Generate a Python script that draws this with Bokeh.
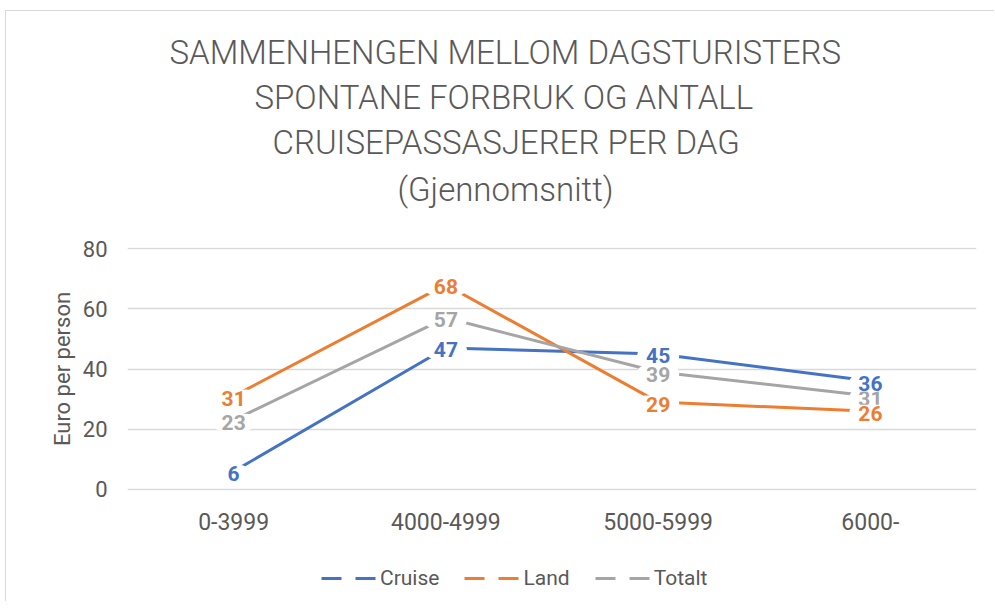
from bokeh.plotting import figure
from bokeh.layouts import column
from bokeh.models import (ColumnDataSource, Range1d, FactorRange, Title, Legend,
                          LegendItem, CategoricalAxis, FixedTicker)
from bokeh.core.properties import value
from bokeh.embed import file_html
from bokeh.resources import INLINE

# ---------------- data ----------------
categories = ["0-3999", "4000-4999", "5000-5999", "6000-"]
cruise = [6, 47, 45, 36]
land = [31, 68, 29, 26]
totalt = [23, 57, 39, 31]
series_names = ["Cruise", "Land", "Totalt"]
y_ticks = [0, 20, 40, 60, 80]
title_lines = ["SAMMENHENGEN MELLOM DAGSTURISTERS",
               "SPONTANE FORBRUK OG ANTALL",
               "CRUISEPASSASJERER PER DAG",
               "(Gjennomsnitt)"]
y_label = "Euro per person"

# ---------------- style ----------------
colors = {"Cruise": "#4472C4", "Land": "#ED7D31", "Totalt": "#A5A5A5"}
TEXT = "#595959"
GRID = "#D9D9D9"
FONT = "Roboto"
TITLE_FONT = "Roboto Light, Roboto"

W, H = 988, 540
p = figure(width=W, height=H,
           x_range=FactorRange(*categories),
           y_range=Range1d(-0.35, 80.35),
           output_backend="svg", toolbar_location=None, title=None,
           min_border_left=121, min_border_right=18,
           min_border_top=236, min_border_bottom=61)
p.outline_line_color = None
p.background_fill_color = "white"
p.border_fill_color = "white"

# grid
p.xgrid.grid_line_color = None
p.ygrid.grid_line_color = GRID
p.ygrid.grid_line_width = 1.3

# axes
for ax in (p.xaxis[0], p.yaxis[0]):
    ax.axis_line_color = None
    ax.major_tick_line_color = None
    ax.minor_tick_line_color = None
    ax.major_tick_in = 0
    ax.major_tick_out = 0
    ax.major_label_text_color = TEXT
    ax.major_label_text_font = FONT
p.yaxis.ticker = y_ticks
p.yaxis.major_label_text_font_size = "22px"
p.yaxis.major_label_standoff = 20
p.yaxis.axis_label = y_label
p.yaxis.axis_label_text_font = FONT
p.yaxis.axis_label_text_font_size = "22px"
p.yaxis.axis_label_text_font_style = "normal"
p.yaxis.axis_label_text_color = TEXT
p.yaxis.axis_label_standoff = 5
p.xaxis.major_label_text_font_size = "23px"
p.xaxis.major_label_standoff = 22

data = {"Cruise": cruise, "Land": land, "Totalt": totalt}
sources = {n: ColumnDataSource(dict(x=categories, y=data[n],
                                    label=[str(v) for v in data[n]]))
           for n in series_names}

for n in series_names:
    p.line("x", "y", source=sources[n], line_color=colors[n], line_width=3)

# data labels with white boxes
for n in ["Totalt", "Cruise", "Land"]:
    p.text("x", "y", text="label", source=sources[n], text_color=colors[n],
           text_font=value(FONT), text_font_size="21px", text_font_style="bold",
           text_align="center", text_baseline="middle", y_offset=2,
           background_fill_color="white",
           padding=dict(left=9, right=9, top=1, bottom=1), border_radius=8)

# empty (tick-less) axis used as a spacer between plot area and title block
spacer_axis = CategoricalAxis(ticker=FixedTicker(ticks=[]),
                              axis_line_color=None, major_tick_line_color=None,
                              minor_tick_line_color=None, major_tick_in=0,
                              major_tick_out=34, minor_tick_out=0,
                              major_label_standoff=0,
                              axis_label=" ", axis_label_standoff=31,
                              axis_label_text_font_size="1px",
                              axis_label_text_color="white")
p.add_layout(spacer_axis, "above")

# title lines: added innermost first; offsets centre each line near x=507
offsets = [42, 127, 145, 270]
standoffs = [4, 4, 4, 8]
for t, off, so in reversed(list(zip(title_lines, offsets, standoffs))):
    p.add_layout(Title(text=t, align="left", offset=off, standoff=so,
                       text_font=TITLE_FONT, text_font_size="33px",
                       text_font_style="normal", text_color=TEXT), "above")

# ---------------- legend strip (separate canvas under the chart) ----------------
lf = figure(width=W, height=50, x_range=FactorRange(*categories),
            y_range=Range1d(-1000, -999), x_axis_type=None, y_axis_type=None,
            output_backend="svg", toolbar_location=None, title=None,
            min_border=0)
lf.outline_line_color = None
lf.grid.grid_line_color = None
lf.border_fill_color = "white"
legend_items = []
for n in series_names:
    # same series drawn off-range: only its (dashed) legend key is visible
    r = lf.line("x", "y", source=sources[n], line_color=colors[n], line_width=3,
                line_dash="20 14")
    legend_items.append(LegendItem(label=n, renderers=[r]))
legend = Legend(items=legend_items, orientation="horizontal",
                location=(194, 11), padding=0, margin=0, spacing=25,
                label_standoff=4, glyph_width=55, glyph_height=24,
                label_height=24, label_text_font=FONT,
                label_text_font_size="21px", label_text_color=TEXT,
                border_line_color=None, background_fill_alpha=0)
lf.add_layout(legend, "center")

layout = column(p, lf, spacing=0)
layout.styles = {"margin-left": "5px", "margin-top": "10px",
                 "border-left": "1px solid #D9D9D9",
                 "border-top": "1px solid #D9D9D9"}

open("out.html", "w").write(file_html(layout, INLINE))
